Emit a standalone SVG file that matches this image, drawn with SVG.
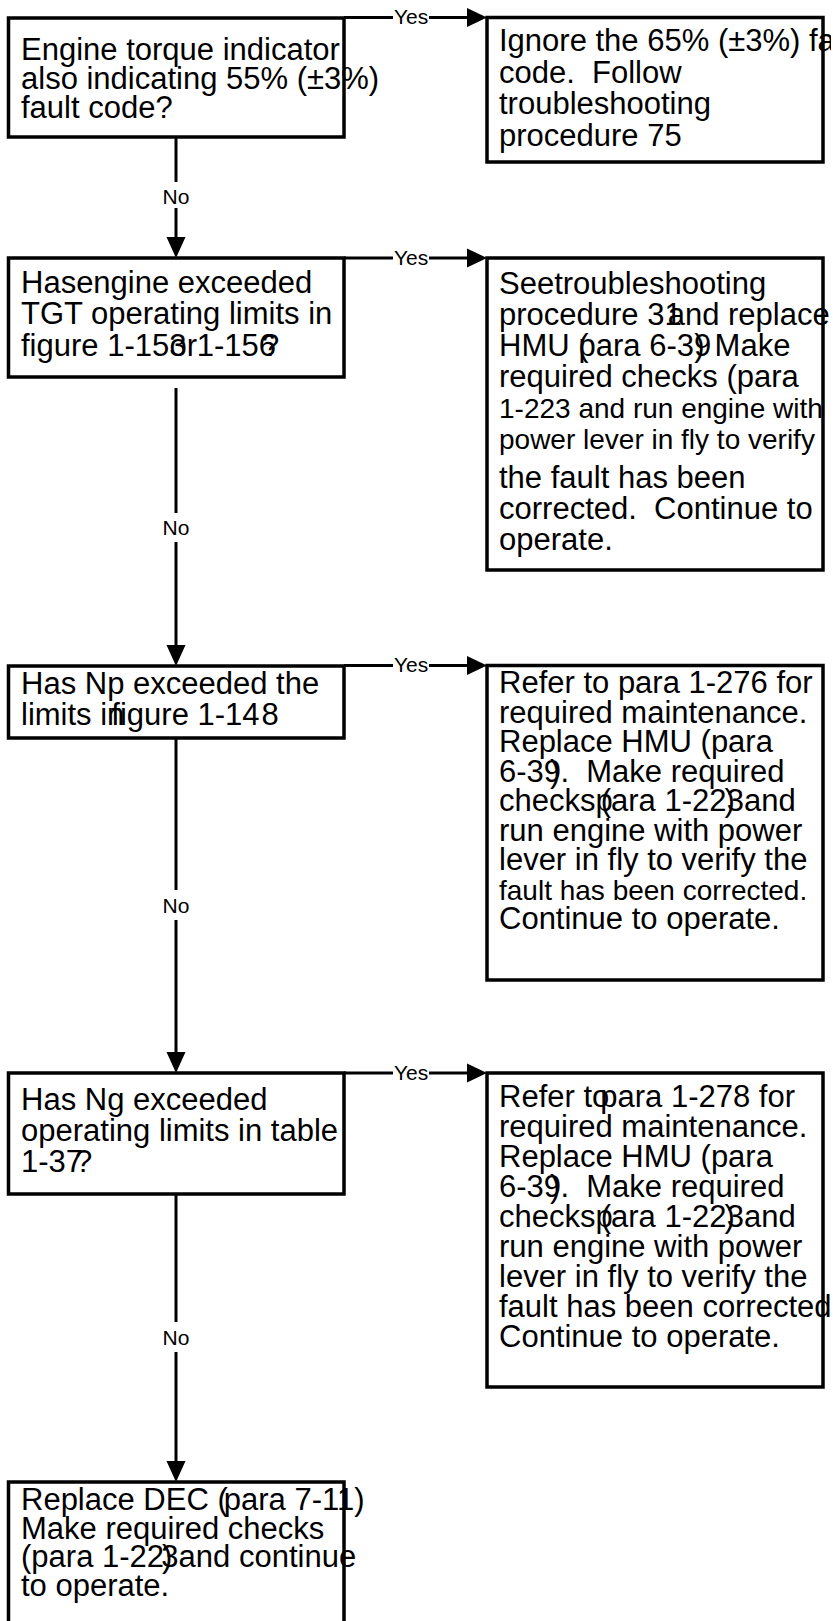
<svg xmlns="http://www.w3.org/2000/svg" width="833" height="1621" viewBox="0 0 833 1621">
  <style>
    .box { fill: #ffffff; stroke: #000000; stroke-width: 3.5; }
    .wire { fill: none; stroke: #000000; stroke-width: 3; }
    .t { font-family: "Liberation Sans", Arial, sans-serif; font-size: 31px; fill: #000000; white-space: pre; }
    .s { font-size: 28px; }
    .lbl { font-family: "Liberation Sans", Arial, sans-serif; font-size: 21px; fill: #000000; }
  </style>
  <defs>
    <clipPath id="page">
      <rect x="0" y="0" width="831" height="1621"/>
    </clipPath>
  </defs>
  <rect width="833" height="1621" fill="#ffffff"/>

  <!-- connectors -->
  <g id="connectors">
    <!-- Yes branches -->
    <g>
      <path class="wire" d="M344,17.5 H393"/>
      <path class="wire" d="M429,17.5 H468"/>
      <path d="M467,8 L487,17.5 L467,27 Z"/>
      <text class="lbl" x="394" y="24">Yes</text>
    </g>
    <g>
      <path class="wire" d="M344,258 H393"/>
      <path class="wire" d="M429,258 H468"/>
      <path d="M467,248.5 L487,258 L467,267.5 Z"/>
      <text class="lbl" x="394" y="264.5">Yes</text>
    </g>
    <g>
      <path class="wire" d="M344,665.5 H393"/>
      <path class="wire" d="M429,665.5 H468"/>
      <path d="M467,656 L487,665.5 L467,675 Z"/>
      <text class="lbl" x="394" y="672">Yes</text>
    </g>
    <g>
      <path class="wire" d="M344,1073 H393"/>
      <path class="wire" d="M429,1073 H468"/>
      <path d="M467,1063.5 L487,1073 L467,1082.5 Z"/>
      <text class="lbl" x="394" y="1079.5">Yes</text>
    </g>
    <!-- No branches -->
    <g>
      <path class="wire" d="M176,137 V182"/>
      <path class="wire" d="M176,208 V240"/>
      <path d="M166.5,237 L185.5,237 L176,258 Z"/>
      <text class="lbl" x="176" y="203.5" text-anchor="middle">No</text>
    </g>
    <g>
      <path class="wire" d="M176,388 V513"/>
      <path class="wire" d="M176,542 V648"/>
      <path d="M166.5,645 L185.5,645 L176,666 Z"/>
      <text class="lbl" x="176" y="534.5" text-anchor="middle">No</text>
    </g>
    <g>
      <path class="wire" d="M176,738 V890"/>
      <path class="wire" d="M176,920 V1055"/>
      <path d="M166.5,1052 L185.5,1052 L176,1073 Z"/>
      <text class="lbl" x="176" y="912.5" text-anchor="middle">No</text>
    </g>
    <g>
      <path class="wire" d="M176,1194 V1322"/>
      <path class="wire" d="M176,1352 V1464"/>
      <path d="M166.5,1461 L185.5,1461 L176,1482 Z"/>
      <text class="lbl" x="176" y="1344.5" text-anchor="middle">No</text>
    </g>
  </g>

  <!-- question 1 -->
  <g id="q1">
    <rect class="box" x="8.5" y="18" width="335.5" height="119"/>
    <text class="t" x="21" y="60">Engine torque indicator</text>
    <text class="t" x="21" y="89">also indicating 55% (±3%)</text>
    <text class="t" x="21" y="118">fault code?</text>
  </g>

  <!-- action 1 -->
  <g id="a1">
    <rect class="box" x="487" y="17.5" width="336" height="144.5"/>
    <g clip-path="url(#page)">
      <text class="t" x="499" y="51">Ignore the 65% (±3%) fault</text>
    </g>
    <text class="t" x="499" y="82.5">code.  Follow</text>
    <text class="t" x="499" y="114">troubleshooting</text>
    <text class="t" x="499" y="145.5">procedure 75</text>
  </g>

  <!-- question 2 -->
  <g id="q2">
    <rect class="box" x="8.5" y="258" width="335.5" height="119"/>
    <text class="t" x="21" y="293">Hasengine exceeded</text>
    <text class="t" x="21" y="324">TGT operating limits in</text>
    <text class="t" x="21" y="356">figure 1-153<tspan dx="-17">or</tspan><tspan dx="-9"> 1-156</tspan><tspan dx="-14">?</tspan></text>
  </g>

  <!-- action 2 -->
  <g id="a2">
    <rect class="box" x="487" y="258" width="336" height="312"/>
    <text class="t" x="499" y="294">Seetroubleshooting</text>
    <text class="t" x="499" y="325">procedure 31<tspan dx="-14">and replace</tspan></text>
    <text class="t" x="499" y="356">HMU (<tspan dx="-10">para 6-39</tspan><tspan dx="-17">)</tspan><tspan dx="10">Make</tspan></text>
    <text class="t" x="499" y="387">required checks (para</text>
    <text class="t s" x="499" y="418">1-223 and run engine with</text>
    <text class="t s" x="499" y="449">power lever in fly to verify</text>
    <text class="t" x="499" y="488">the fault has been</text>
    <text class="t" x="499" y="519">corrected.  Continue to</text>
    <text class="t" x="499" y="550">operate.</text>
  </g>

  <!-- question 3 -->
  <g id="q3">
    <rect class="box" x="8.5" y="666" width="335.5" height="72"/>
    <text class="t" x="21" y="694">Has Np exceeded the</text>
    <text class="t" x="21" y="725">limits in<tspan dx="-13">figure 1-14</tspan><tspan dx="2">8</tspan></text>
  </g>

  <!-- action 3 -->
  <g id="a3">
    <rect class="box" x="487" y="665.5" width="336" height="314.5"/>
    <text class="t" x="499" y="693">Refer to para 1-276 for</text>
    <text class="t" x="499" y="722.5">required maintenance.</text>
    <text class="t" x="499" y="752">Replace HMU (para</text>
    <text class="t" x="499" y="781.5">6-39<tspan dx="-11">)</tspan><tspan>.  Make required</tspan></text>
    <text class="t" x="499" y="811">checksp<tspan dx="-12">(ara 1-22</tspan><tspan dx="-2">)</tspan><tspan dx="-8">3and</tspan></text>
    <text class="t" x="499" y="840.5">run engine with power</text>
    <text class="t" x="499" y="870">lever in fly to verify the</text>
    <text class="t s" x="499" y="899.5">fault has been corrected.</text>
    <text class="t" x="499" y="929">Continue to operate.</text>
  </g>

  <!-- question 4 -->
  <g id="q4">
    <rect class="box" x="8.5" y="1073" width="335.5" height="121"/>
    <text class="t" x="21" y="1110">Has Ng exceeded</text>
    <text class="t" x="21" y="1141">operating limits in table</text>
    <text class="t" x="21" y="1172">1-37<tspan dx="-8">?</tspan></text>
  </g>

  <!-- action 4 -->
  <g id="a4">
    <rect class="box" x="487" y="1073" width="336" height="314"/>
    <text class="t" x="499" y="1107">Refer to<tspan dx="-9">para 1-278 for</tspan></text>
    <text class="t" x="499" y="1137">required maintenance.</text>
    <text class="t" x="499" y="1167">Replace HMU (para</text>
    <text class="t" x="499" y="1197">6-39<tspan dx="-11">)</tspan><tspan>.  Make required</tspan></text>
    <text class="t" x="499" y="1227">checksp<tspan dx="-12">(ara 1-22</tspan><tspan dx="-2">)</tspan><tspan dx="-8">3and</tspan></text>
    <text class="t" x="499" y="1257">run engine with power</text>
    <text class="t" x="499" y="1287">lever in fly to verify the</text>
    <g clip-path="url(#page)">
      <text class="t" x="499" y="1317">fault has been corrected.</text>
    </g>
    <text class="t" x="499" y="1347">Continue to operate.</text>
  </g>

  <!-- final action -->
  <g id="a5">
    <rect class="box" x="8.5" y="1482" width="335.5" height="160"/>
    <text class="t" x="21" y="1510">Replace DEC (<tspan dx="-4">para 7-11)</tspan></text>
    <text class="t" x="21" y="1538.5">Make required checks</text>
    <text class="t" x="21" y="1567">(para 1-22<tspan dx="-2">)</tspan><tspan dx="-11">3and continue</tspan></text>
    <text class="t" x="21" y="1595.5">to operate.</text>
  </g>
</svg>
